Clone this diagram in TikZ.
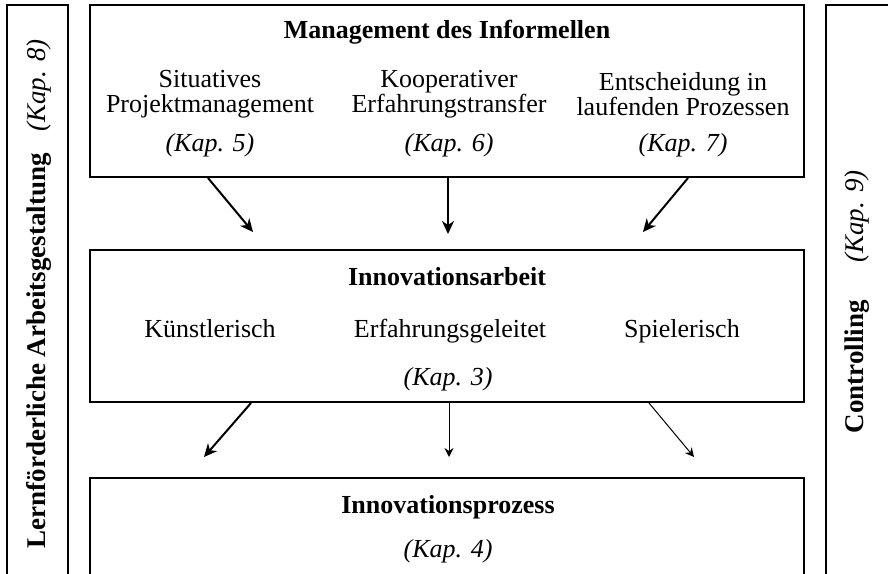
\documentclass[tikz,border=0pt]{standalone}
\usepackage{fontspec}
\setmainfont{Liberation Serif}
\usetikzlibrary{arrows.meta}

\begin{document}
\begin{tikzpicture}[x=0.5pt,y=-0.5pt,
        font=\fontsize{13}{12.5}\selectfont,
        frame/.style={draw,line width=1pt,inner sep=0pt,minimum width=357pt},
        head/.style={font=\fontsize{13}{12.5}\selectfont\bfseries,anchor=base},
        col/.style={align=center},
        kap/.style={font=\fontsize{13}{12.5}\selectfont\itshape,anchor=base},
        side/.style={rotate=90,inner sep=0pt,font=\fontsize{13.5}{13}\selectfont\bfseries},
        thickarrow/.style={-{Stealth[length=6.5pt,width=6pt,inset=2pt]},line width=1pt},
        thinarrow/.style={-{Stealth[length=4.5pt,width=4.5pt,inset=1.5pt]},line width=0.5pt}]
        \useasboundingbox (0,0) rectangle (888,573);
        \clip (0,0) rectangle (888,573);

        % the two side bars run off the bottom edge
        \draw[line width=1pt] (7,5) rectangle (68,640);
        \draw[line width=1pt] (826,5) rectangle (900,640);
        \node[side,anchor=east] (lern) at (39,39)
            {Lernförderliche Arbeitsgestaltung\hspace{0.8em}\textit{\mdseries(Kap. 8)}};
        \node[side,anchor=east] (contr) at (857,170)
            {Controlling\hspace{1.4em}\textit{\mdseries(Kap. 9)}};

        % three stacked boxes
        \node[frame,minimum height=86pt] (mgmt) at (447,91) {};
        \node[frame,minimum height=76pt] (arb) at (447,326) {};
        \node[frame,minimum height=82pt] (proz) at (447,560) {};

        \node[head] (mgmt t) at (447,38) {Management des Informellen};
        \node[col] (sit) at (210,94) {Situatives\\Projektmanagement};
        \node[col] (koop) at (449,94) {Kooperativer\\Erfahrungstransfer};
        \node[col] (ent) at (683,94) {Entscheidung in\\laufenden Prozessen};
        \node[kap] (k5) at (210,151) {(Kap. 5)};
        \node[kap] (k6) at (449,151) {(Kap. 6)};
        \node[kap] (k7) at (683,151) {(Kap. 7)};

        \node[head] (arb t) at (447,285) {Innovationsarbeit};
        \node[anchor=base] (kuen) at (210,337) {Künstlerisch};
        \node[anchor=base] (erf) at (450,337) {Erfahrungsgeleitet};
        \node[anchor=base] (spiel) at (682,337) {Spielerisch};
        \node[kap] (k3) at (448,385) {(Kap. 3)};

        \node[head] (proz t) at (448,513) {Innovationsprozess};
        \node[kap] (k4) at (448,557) {(Kap. 4)};

        % arrow tips just above the next box
        \coordinate (e5) at (253,232);
        \coordinate (e6) at (448,234);
        \coordinate (e7) at (643,232);
        \coordinate (f1) at (204,457);
        \coordinate (f2) at (449,457);
        \coordinate (f3) at (694,457);

        \draw[thickarrow] ([xshift=-119.5pt]mgmt.south) -- (e5);
        \draw[thickarrow] ([xshift=0.5pt]mgmt.south) -- (e6);
        \draw[thickarrow] ([xshift=120.5pt]mgmt.south) -- (e7);
        \draw[thickarrow] ([xshift=-98pt]arb.south) -- (f1);
        \draw[thinarrow] ([xshift=1pt]arb.south) -- (f2);
        \draw[thinarrow] ([xshift=101pt]arb.south) -- (f3);
\end{tikzpicture}
\end{document}
